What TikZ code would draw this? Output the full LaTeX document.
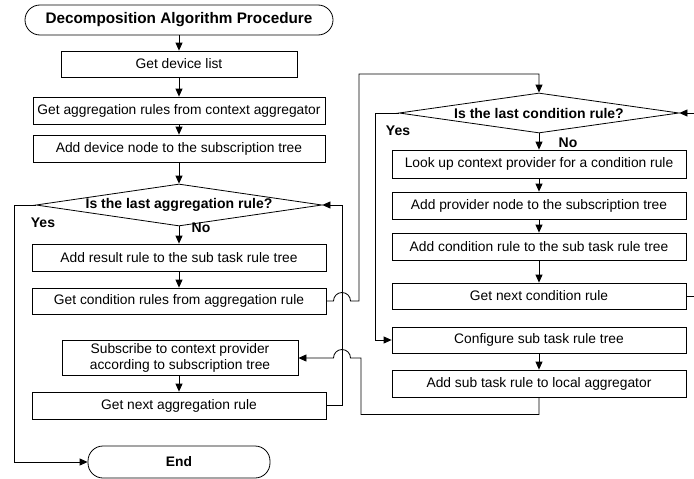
\documentclass[tikz,border=0pt]{standalone}
\usepackage{fontspec}
\setmainfont{Liberation Sans}
\usetikzlibrary{arrows.meta,shapes.geometric}
\begin{document}
\begin{tikzpicture}[x=1pt,y=-1pt,
  line width=0.8pt,
  box/.style={draw, rectangle, inner sep=0pt, font=\fontsize{13.8}{16.5}\selectfont, align=center},
  term/.style={draw, rectangle, rounded corners=15pt, inner sep=0pt, font=\bfseries\fontsize{15.3}{18}\selectfont},
  dec/.style={draw, diamond, inner sep=0pt, font=\bfseries\fontsize{14}{16}\selectfont},
  lab/.style={font=\bfseries\fontsize{14}{16}\selectfont, inner sep=0pt},
  arr/.style={-{Triangle[length=8pt,width=7pt]}},
]
\useasboundingbox (0,0) rectangle (694,479);
% left column
\node[term, minimum width=308pt, minimum height=30pt] (start) at (179,20) {Decomposition Algorithm Procedure};
\node[box, minimum width=236pt, minimum height=26pt] (dev) at (179,64) {Get device list};
\node[box, minimum width=292pt, minimum height=27pt] (agg) at (179,110.5) {Get aggregation rules from context aggregator};
\node[box, minimum width=292pt, minimum height=27pt] (add) at (179,148.5) {Add device node to the subscription tree};
\node[dec, aspect=6.8, minimum width=286pt, minimum height=42pt] (d1) at (179,205) {Is the last aggregation rule?};
\node[box, minimum width=294pt, minimum height=27pt] (res) at (179,257.5) {Add result rule to the sub task rule tree};
\node[box, minimum width=294pt, minimum height=26pt] (cond) at (179,301) {Get condition rules from aggregation rule};
\node[box, minimum width=236pt, minimum height=35pt] (sub) at (180,358) {Subscribe to context provider\\according to subscription tree};
\node[box, minimum width=294pt, minimum height=27pt] (next) at (179,405.5) {Get next aggregation rule};
\node[term, minimum width=182pt, minimum height=32pt, font=\bfseries\fontsize{13.8}{16}\selectfont] (end) at (179,462) {End};
% right column
\node[dec, aspect=7, minimum width=280pt, minimum height=40pt] (d2) at (539,113) {Is the last condition rule?};
\node[box, minimum width=294pt, minimum height=28pt] (look) at (539,164) {Look up context provider for a condition rule};
\node[box, minimum width=294pt, minimum height=27pt] (prov) at (539,205.5) {Add provider node to the subscription tree};
\node[box, minimum width=294pt, minimum height=27pt] (acond) at (539,246.5) {Add condition rule to the sub task rule tree};
\node[box, minimum width=294pt, minimum height=26pt] (gnc) at (539,296) {Get next condition rule};
\node[box, minimum width=294pt, minimum height=26pt] (conf) at (539,340) {Configure sub task rule tree};
\node[box, minimum width=294pt, minimum height=27pt] (addsub) at (539,383.5) {Add sub task rule to local aggregator};
% labels
\node[lab] (y1) at (43,223) {Yes};
\node[lab] (n1) at (201,228) {No};
\node[lab] (y2) at (398,131) {Yes};
\node[lab] (n2) at (568,143) {No};
% vertical arrows
\draw[arr] (start.south) -- (dev.north);
\draw[arr] (dev.south) -- (agg.north);
\draw[arr] (agg.south) -- (add.north);
\draw[arr] (add.south) -- (d1.north);
\draw[arr] (d1.south) -- (res.north);
\draw[arr] (res.south) -- (cond.north);
\draw[arr] (sub.south -| next.north) -- (next.north);
\draw[arr] (d2.south) -- (look.north);
\draw[arr] (look.south) -- (prov.north);
\draw[arr] (prov.south) -- (acond.north);
\draw[arr] (acond.south) -- (gnc.north);
\draw[arr] (conf.south) -- (addsub.north);
% loops
\coordinate (vA) at (342,205);
\draw[arr] (d1.west) -- (14,205) |- (end.west);
\draw[arr] (next.east) -| (vA) -- (d1.east);
\draw[arr] (cond.east) -- (333.5,301) arc[start angle=180,end angle=0,radius=8.5pt] -- (359,301) -- (359,74) -| (d2.north);
\draw[arr] (d2.west) -- (375,113) |- (conf.west);
\coordinate (rA) at (700,296);
\coordinate (rB) at (700,113);
\draw (gnc.east) -- (rA);
\draw[arr] (rB) -- (d2.east);
\draw[arr] (addsub.south) -- ++(0,17) -| (361,358) -- (350.5,358) arc[start angle=0,end angle=180,radius=8.5pt] -- (sub.east);
\end{tikzpicture}
\end{document}
